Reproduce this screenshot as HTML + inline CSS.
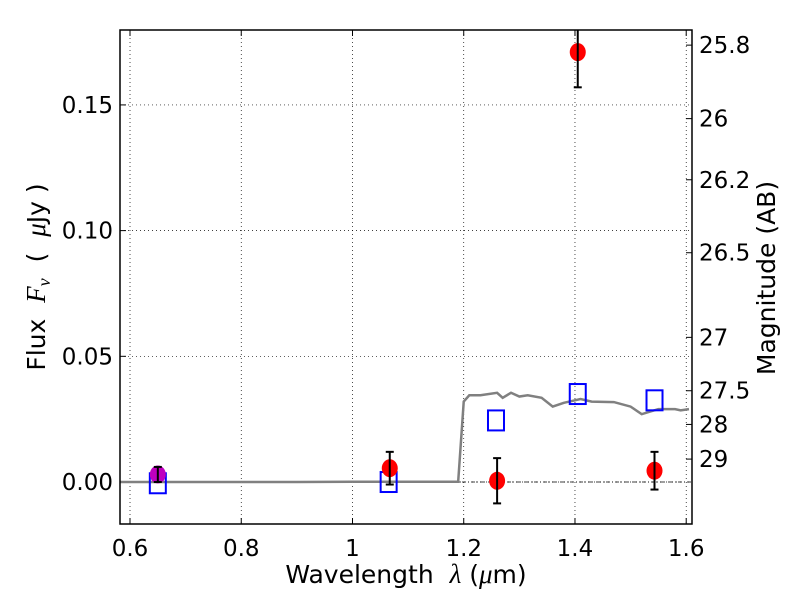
<!DOCTYPE html>
<html><head><meta charset="utf-8"><style>
body{margin:0;background:#fff;}
svg text{font-family:"DejaVu Sans","Liberation Sans",sans-serif;fill:#000;white-space:pre;}
</style></head><body>
<svg id="chart" width="800" height="600" xmlns="http://www.w3.org/2000/svg"></svg>
<script>
const xTicks=[0.6,0.8,1.0,1.2,1.4,1.6];
const xTickLabels=["0.6","0.8","1","1.2","1.4","1.6"];
const yTicks=[0,0.05,0.10,0.15];
const yTickLabels=["0.00","0.05","0.10","0.15"];
const magTicks=[25.8,26,26.2,26.5,27,27.5,28,29];
const magTickLabels=["25.8","26","26.2","26.5","27","27.5","28","29"];
const modelWave=[0.58,0.7,0.9,1.0,1.1,1.19,1.2,1.21,1.23,1.26,1.27,1.285,1.30,1.315,1.34,1.36,1.38,1.40,1.41,1.43,1.47,1.50,1.52,1.55,1.58,1.59,1.605];
const modelFlux=[0,0,0,0.0001,0.0001,0.0001,0.032,0.0345,0.0345,0.0355,0.0335,0.0355,0.034,0.0345,0.0335,0.030,0.0315,0.0325,0.033,0.032,0.0318,0.030,0.027,0.029,0.029,0.0285,0.029];
const obsWave=[1.067,1.26,1.405,1.543];
const obsFlux=[0.0055,0.0005,0.171,0.0045];
const obsErr=[0.0065,0.009,0.014,0.0075];
const purpleWave=[0.65];
const purpleFlux=[0.003];
const purpleErr=[0.003];
const modelBandWave=[0.65,1.065,1.258,1.405,1.543];
const modelBandFlux=[-0.0005,0,0.0245,0.035,0.0325];

const L=120,R=692,T=30,B=524;
const xmin=0.582,xmax=1.6104,ymin=-0.0167,ymax=0.1798;
const sx=v=>L+(v-xmin)/(xmax-xmin)*(R-L);
const sy=v=>B-(v-ymin)/(ymax-ymin)*(B-T);
const NS="http://www.w3.org/2000/svg";
const svg=document.getElementById('chart');
function mk(tag,attrs,parent){const e=document.createElementNS(NS,tag);for(const k in attrs)e.setAttribute(k,attrs[k]);(parent||svg).appendChild(e);return e;}
const clip=mk('clipPath',{id:'pc'});mk('rect',{x:L,y:T,width:R-L,height:B-T},clip);
const grid=mk('g',{});


xTicks.forEach((v,i)=>{
  mk('line',{x1:sx(v),x2:sx(v),y1:T,y2:B,stroke:'#000','stroke-width':0.7,'stroke-dasharray':'1,3'},grid);
  mk('line',{x1:sx(v),x2:sx(v),y1:B,y2:B-6,stroke:'#000'});mk('line',{x1:sx(v),x2:sx(v),y1:T,y2:T+6,stroke:'#000'});
  const t=mk('text',{x:sx(v),y:B+32,'text-anchor':'middle','font-size':23});t.textContent=xTickLabels[i];
  
  
});
yTicks.forEach((v,i)=>{
  mk('line',{x1:L,x2:R,y1:sy(v),y2:sy(v),stroke:'#000','stroke-width':0.7,'stroke-dasharray':'1,3'},grid);
  mk('line',{x1:L,x2:L+6,y1:sy(v),y2:sy(v),stroke:'#000'});
  const t=mk('text',{x:L-7,y:sy(v)+8,'text-anchor':'end','font-size':23});t.textContent=yTickLabels[i];
  
  
});
magTicks.forEach((m,i)=>{
  const f=Math.pow(10,(23.9-m)/2.5);const y=sy(f);
  mk('line',{x1:R,x2:R-6,y1:y,y2:y,stroke:'#000'});
  const t=mk('text',{x:R+7,y:y+8,'font-size':23});t.textContent=magTickLabels[i];
  
  
});
const plot=mk('g',{'clip-path':'url(#pc)'});


const zl=mk('line',{x1:L,x2:R,y1:sy(0),y2:sy(0),stroke:'#000','stroke-width':0.8,'stroke-dasharray':'4,2,1,2'},plot);


const ml=mk('polyline',{points:modelWave.map((w,i)=>sx(w)+','+sy(modelFlux[i])).join(' '),fill:'none',stroke:'#808080','stroke-width':2.5},plot);


modelBandWave.forEach((w,i)=>{
  const r=mk('rect',{x:sx(w)-8,y:sy(modelBandFlux[i])-10,width:16,height:20,fill:'none',stroke:'#0000ff','stroke-width':2},plot);
  
  
});
function pts(ws,fs,es,col,name){
  ws.forEach((w,i)=>{
    const c=mk('ellipse',{cx:sx(w),cy:sy(fs[i]),rx:8,ry:9,fill:col},plot);
    
    
    const x=sx(w),y1=sy(fs[i]-es[i]),y2=sy(fs[i]+es[i]);
    const g=mk('g',{stroke:'#000','stroke-width':2},plot);
    
    
    mk('line',{x1:x,x2:x,y1:y1,y2:y2},g);mk('line',{x1:x-4,x2:x+4,y1:y1,y2:y1},g);mk('line',{x1:x-4,x2:x+4,y1:y2,y2:y2},g);
  });
}
pts(purpleWave,purpleFlux,purpleErr,'#bf00bf','purple-point');
pts(obsWave,obsFlux,obsErr,'#ff0000','observed-point');
const fr=mk('rect',{x:L,y:T,width:R-L,height:B-T,fill:'none',stroke:'#000','stroke-width':1.5});


const xl=mk('text',{x:406,y:583,'text-anchor':'middle','font-size':25});
xl.innerHTML='Wavelength  <tspan font-family="Liberation Serif" font-style="italic" font-size="27">λ</tspan> (<tspan font-family="Liberation Serif" font-style="italic" font-size="27">μ</tspan>m)';


const yl=mk('text',{x:45,y:277,'text-anchor':'middle','font-size':25,transform:'rotate(-90 45 277)'});
yl.innerHTML='Flux  <tspan font-family="Liberation Serif" font-style="italic" font-size="27">F<tspan font-size="18" dy="5">ν</tspan></tspan><tspan dy="-5">  (  </tspan><tspan font-family="Liberation Serif" font-style="italic" font-size="27">μ</tspan>Jy )';


const rl=mk('text',{x:775,y:278,'text-anchor':'middle','font-size':25,transform:'rotate(-90 775 278)'});
rl.textContent='Magnitude (AB)';


</script>
</body></html>
